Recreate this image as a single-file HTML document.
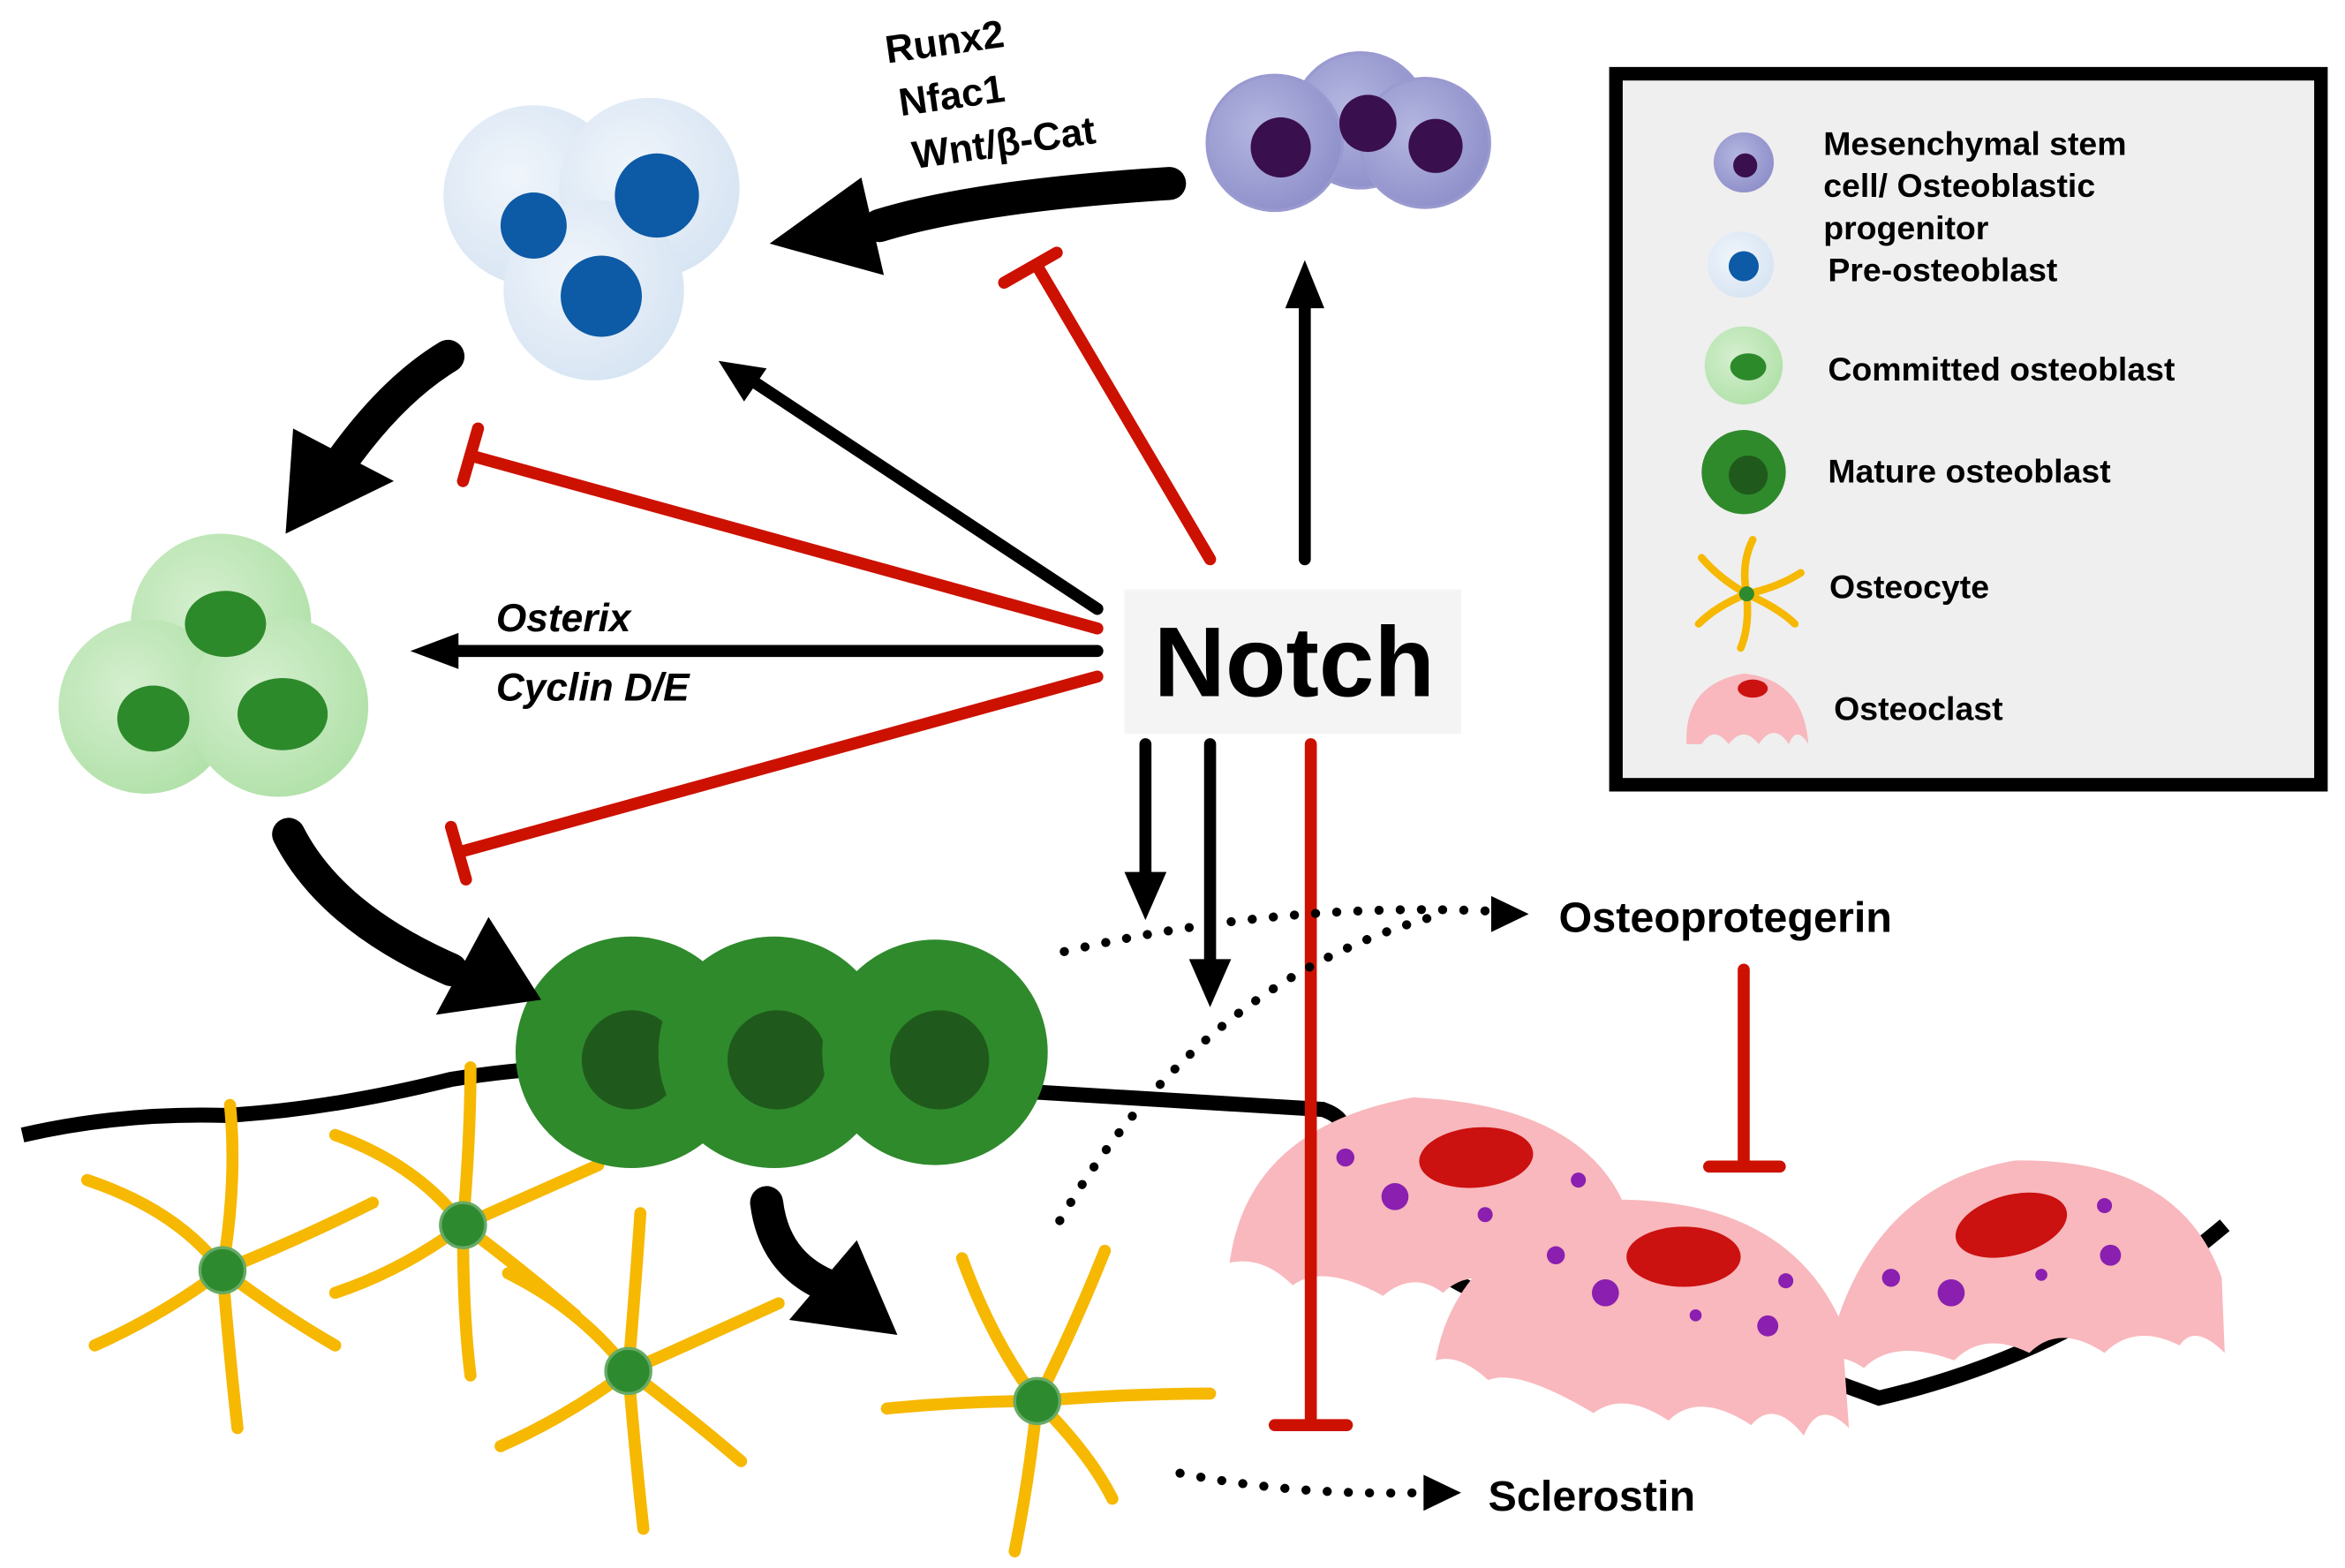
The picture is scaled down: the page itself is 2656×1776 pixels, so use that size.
<!DOCTYPE html>
<html><head><meta charset="utf-8"><style>
html,body{margin:0;padding:0;background:#fff;}
svg{display:block;}
text{font-family:"Liberation Sans",sans-serif;font-weight:bold;}
</style></head><body>
<svg width="2656" height="1776" viewBox="0 0 1560 1043" xmlns="http://www.w3.org/2000/svg">
<defs>
<radialGradient id="pur" cx="0.4" cy="0.4" r="0.7"><stop offset="0" stop-color="#b4b6e0"/><stop offset="1" stop-color="#8b8cc8"/></radialGradient>
<radialGradient id="blu" cx="0.4" cy="0.4" r="0.7"><stop offset="0" stop-color="#f0f5fb"/><stop offset="1" stop-color="#d5e3f2"/></radialGradient>
<radialGradient id="lg" cx="0.4" cy="0.4" r="0.7"><stop offset="0" stop-color="#d5efcf"/><stop offset="1" stop-color="#aee0a6"/></radialGradient>
</defs>

<!-- Legend -->
<rect x="1075" y="49" width="469" height="473" fill="#efefef" stroke="#000" stroke-width="9"/>
<circle cx="1160" cy="108" r="20" fill="url(#pur)"/><circle cx="1161" cy="110" r="8" fill="#3a0f4e"/>
<circle cx="1158" cy="176" r="22" fill="url(#blu)"/><circle cx="1160" cy="177" r="10" fill="#0d5aa6"/>
<circle cx="1160" cy="243" r="26" fill="url(#lg)"/><ellipse cx="1163" cy="244" rx="12" ry="9" fill="#2d8a2b"/>
<circle cx="1160" cy="314" r="28" fill="#2f8a2c"/><circle cx="1163" cy="316" r="13" fill="#1f5a1c"/>
<g transform="translate(1162,395)" stroke="#f6b800" stroke-width="5" stroke-linecap="round" fill="none">
<path d="M0,0 Q-4,-20 4,-36 M0,0 Q20,-4 36,-14 M0,0 Q22,10 32,20 M0,0 Q2,22 -4,36 M0,0 Q-20,8 -32,20 M0,0 Q-18,-10 -30,-24"/>
</g><circle cx="1162" cy="395" r="5" fill="#2e8a2e"/>
<path d="M1122,495 Q1120,455 1160,448 Q1200,452 1203,495 Q1195,482 1190,495 Q1180,480 1170,495 Q1160,482 1150,495 Q1140,482 1132,495 Z" fill="#f8b8bd"/>
<ellipse cx="1166" cy="458" rx="10" ry="6" fill="#cc1111"/>
<text x="1213" y="103" font-size="22">Mesenchymal stem</text>
<text x="1213" y="131" font-size="22">cell/ Osteoblastic</text>
<text x="1213" y="159" font-size="22">progenitor</text>
<text x="1216" y="187" font-size="22">Pre-osteoblast</text>
<text x="1216" y="253" font-size="22">Committed osteoblast</text>
<text x="1216" y="321" font-size="22">Mature osteoblast</text>
<text x="1217" y="398" font-size="22">Osteocyte</text>
<text x="1220" y="479" font-size="22">Osteoclast</text>

<!-- bone line -->
<path d="M15,755 Q80,740 150,742 Q220,738 300,718 Q380,705 450,712 L880,738 Q900,745 890,760" fill="none" stroke="#000" stroke-width="10"/>
<path d="M950,840 Q1000,880 1060,860 L1250,930 Q1380,900 1480,815" fill="none" stroke="#000" stroke-width="10"/>

<!-- osteocytes -->
<g stroke="#f6b800" stroke-width="8" stroke-linecap="round" fill="none">
<g transform="translate(148,845)"><path d="M0,0 Q-30,-40 -90,-60 M0,0 Q10,-60 5,-110 M0,0 Q50,-20 100,-45 M0,0 Q40,30 75,50 M0,0 Q5,60 10,105 M0,0 Q-40,30 -85,50"/></g>
<g transform="translate(308,815)"><path d="M0,0 Q-30,-40 -85,-60 M0,0 Q5,-60 5,-105 M0,0 Q45,-20 90,-40 M0,0 Q40,30 75,60 M0,0 Q0,60 5,100 M0,0 Q-40,30 -85,45"/></g>
<g transform="translate(418,912)"><path d="M0,0 Q-30,-40 -80,-65 M0,0 Q5,-60 8,-105 M0,0 Q45,-20 100,-45 M0,0 Q40,30 75,60 M0,0 Q5,60 10,105 M0,0 Q-40,30 -85,50"/></g>
<g transform="translate(690,932)"><path d="M0,0 Q-30,-40 -50,-95 M0,0 Q25,-50 45,-100 M0,0 Q60,-5 115,-5 M0,0 Q35,35 50,65 M0,0 Q-5,50 -15,100 M0,0 Q-50,0 -100,5"/></g>
</g>
<circle cx="148" cy="845" r="15" fill="#2e8a2e" stroke="#6a6" stroke-width="2"/>
<circle cx="308" cy="815" r="15" fill="#2e8a2e" stroke="#6a6" stroke-width="2"/>
<circle cx="418" cy="912" r="15" fill="#2e8a2e" stroke="#6a6" stroke-width="2"/>
<circle cx="690" cy="932" r="15" fill="#2e8a2e" stroke="#6a6" stroke-width="2"/>

<!-- osteoclasts -->
<g fill="#f8b8bd">
<path d="M818,840 Q830,750 940,730 Q1050,735 1080,800 L1095,860 Q1070,850 1060,860 Q1040,845 1020,860 Q980,840 960,860 Q940,845 920,862 Q880,840 860,855 Q840,835 818,840Z"/>
<path d="M955,905 Q970,820 1080,798 Q1190,800 1225,880 L1230,950 Q1210,930 1200,955 Q1180,930 1165,948 Q1130,925 1110,945 Q1080,925 1060,940 Q1010,910 990,918 Q970,900 955,905Z"/>
<path d="M1215,905 Q1240,790 1340,772 Q1450,770 1478,850 L1480,900 Q1460,880 1450,895 Q1420,880 1400,900 Q1370,880 1350,900 Q1320,885 1300,905 Q1260,890 1240,910 Q1225,900 1215,905Z"/>
</g>
<ellipse cx="982" cy="770" rx="38" ry="20" fill="#cc1111" transform="rotate(-5 982 770)"/>
<ellipse cx="1120" cy="836" rx="38" ry="20" fill="#cc1111"/>
<ellipse cx="1338" cy="815" rx="38" ry="20" fill="#cc1111" transform="rotate(-15 1338 815)"/>
<g fill="#8a1fb0">
<circle cx="928" cy="796" r="9"/><circle cx="895" cy="770" r="6"/><circle cx="988" cy="808" r="5"/><circle cx="1050" cy="785" r="5"/>
<circle cx="1068" cy="860" r="9"/><circle cx="1035" cy="835" r="6"/><circle cx="1176" cy="882" r="7"/><circle cx="1188" cy="852" r="5"/><circle cx="1128" cy="875" r="4"/>
<circle cx="1298" cy="860" r="9"/><circle cx="1258" cy="850" r="6"/><circle cx="1404" cy="835" r="7"/><circle cx="1400" cy="802" r="5"/><circle cx="1358" cy="848" r="4"/>
</g>

<!-- MSC cells -->
<circle cx="905" cy="80" r="45" fill="url(#pur)" stroke="#9a9ad0" stroke-width="2"/>
<circle cx="948" cy="95" r="43" fill="url(#pur)" stroke="#9a9ad0" stroke-width="2"/>
<circle cx="848" cy="95" r="45" fill="url(#pur)" stroke="#9a9ad0" stroke-width="2"/>
<circle cx="852" cy="98" r="20" fill="#3a0f4e"/><circle cx="910" cy="82" r="19" fill="#3a0f4e"/><circle cx="955" cy="97" r="18" fill="#3a0f4e"/>

<!-- pre-osteoblasts -->
<circle cx="355" cy="130" r="60" fill="url(#blu)"/>
<circle cx="432" cy="125" r="60" fill="url(#blu)"/>
<circle cx="395" cy="193" r="60" fill="url(#blu)"/>
<circle cx="355" cy="150" r="22" fill="#0d5aa6"/><circle cx="437" cy="130" r="28" fill="#0d5aa6"/><circle cx="400" cy="197" r="27" fill="#0d5aa6"/>

<!-- committed -->
<circle cx="147" cy="415" r="60" fill="url(#lg)"/>
<circle cx="97" cy="470" r="58" fill="url(#lg)"/>
<circle cx="185" cy="470" r="60" fill="url(#lg)"/>
<ellipse cx="150" cy="415" rx="27" ry="22" fill="#2d8a2b"/><ellipse cx="102" cy="478" rx="24" ry="22" fill="#2d8a2b"/><ellipse cx="188" cy="475" rx="30" ry="24" fill="#2d8a2b"/>

<!-- mature -->
<circle cx="420" cy="700" r="77" fill="#2f8a2c"/><circle cx="420" cy="705" r="33" fill="#1f5a1c"/>
<circle cx="515" cy="700" r="77" fill="#2f8a2c"/><circle cx="517" cy="705" r="33" fill="#1f5a1c"/>
<circle cx="622" cy="700" r="75" fill="#2f8a2c"/><circle cx="625" cy="705" r="33" fill="#1f5a1c"/>

<!-- big curved arrows -->
<g fill="none" stroke="#000" stroke-width="22" stroke-linecap="round">
<path d="M778,122 Q650,130 585,150"/>
<path d="M298,237 Q260,260 225,310"/>
<path d="M192,555 Q220,610 300,645"/>
<path d="M510,800 Q515,840 550,855"/>
</g>
<path d="M512,162 L573,118 L588,183 Z" fill="#000"/>
<path d="M190,355 L195,285 L262,320 Z" fill="#000"/>
<path d="M360,665 L290,675 L325,610 Z" fill="#000"/>
<path d="M597,888 L525,878 L570,825 Z" fill="#000"/>

<!-- Notch arrows -->
<g stroke="#000" stroke-width="8" fill="none" stroke-linecap="round">
<line x1="868" y1="372" x2="868" y2="200"/>
<line x1="730" y1="405" x2="500" y2="253"/>
<line x1="730" y1="433" x2="300" y2="433"/>
<line x1="762" y1="495" x2="762" y2="590"/>
<line x1="805" y1="495" x2="805" y2="645"/>
</g>
<path d="M868,173 L855,205 L881,205Z" fill="#000"/>
<path d="M478,240 L495,267 L510,245Z" fill="#000"/>
<path d="M273,433 L305,421 L305,445Z" fill="#000"/>
<path d="M762,612 L748,580 L776,580Z" fill="#000"/>
<path d="M805,670 L791,638 L819,638Z" fill="#000"/>

<!-- red inhibitors -->
<g stroke="#cc1100" stroke-width="8" fill="none" stroke-linecap="round">
<line x1="805" y1="372" x2="690" y2="177"/><line x1="668" y1="188" x2="703" y2="168"/>
<line x1="730" y1="418" x2="313" y2="303"/><line x1="318" y1="285" x2="308" y2="320"/>
<line x1="730" y1="450" x2="305" y2="567"/><line x1="300" y1="550" x2="310" y2="585"/>
<line x1="872" y1="495" x2="872" y2="948"/><line x1="848" y1="948" x2="896" y2="948"/>
<line x1="1160" y1="645" x2="1160" y2="775"/><line x1="1137" y1="776" x2="1184" y2="776"/>
</g>

<!-- dotted -->
<g stroke="#000" stroke-width="6" fill="none" stroke-linecap="round" stroke-dasharray="0.1 14">
<path d="M708,633 Q850,600 990,606"/>
<path d="M705,812 Q800,650 960,608"/>
<path d="M785,980 Q860,995 945,993"/>
</g>
<path d="M1017,608 L992,596 L992,620Z" fill="#000"/>
<path d="M972,993 L947,981 L947,1005Z" fill="#000"/>

<!-- Notch label -->
<rect x="748" y="392" width="224" height="96" fill="#f4f4f4"/>
<text x="861" y="463" font-size="66" text-anchor="middle" fill="#000">Notch</text>

<!-- labels -->
<g transform="rotate(-8 590 40)"><text x="590" y="42" font-size="26">Runx2</text><text x="594" y="78" font-size="26">Nfac1</text><text x="598" y="114" font-size="26">Wnt/β-Cat</text></g>
<text x="330" y="420" font-size="26" font-style="italic">Osterix</text>
<text x="330" y="466" font-size="26" font-style="italic">Cyclin D/E</text>
<text x="1037" y="620" font-size="28.5">Osteoprotegerin</text>
<text x="990" y="1005" font-size="28.5">Sclerostin</text>
</svg>
</body></html>
